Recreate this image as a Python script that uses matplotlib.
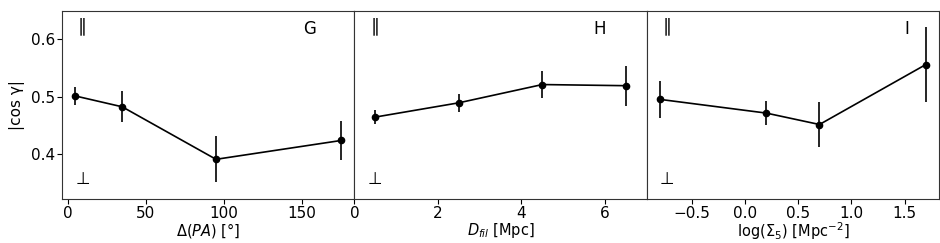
import matplotlib
matplotlib.use("Agg")
import matplotlib.pyplot as plt

# panel G: misalignment angle
pa_x = [5, 35, 95, 175]
pa_y = [0.501, 0.482, 0.390, 0.423]
pa_err = [0.015, 0.027, 0.040, 0.034]

# panel H: distance to filament
dfil_x = [0.5, 2.5, 4.5, 6.5]
dfil_y = [0.464, 0.489, 0.521, 0.519]
dfil_err = [0.012, 0.016, 0.024, 0.035]

# panel I: local density
sig_x = [-0.8, 0.2, 0.7, 1.7]
sig_y = [0.495, 0.471, 0.451, 0.556]
sig_err = [0.032, 0.021, 0.039, 0.066]

panel_letters = ["G", "H", "I"]
xlabels = [r"$\Delta(PA)$ [°]", r"$D_{fil}$ [Mpc]", r"log($\Sigma_5$) [Mpc$^{-2}$]"]

fig, axes = plt.subplots(1, 3, figsize=(9.4, 2.43), dpi=100, sharey=True)
fig.subplots_adjust(left=0.066, right=0.999, bottom=0.18, top=0.955, wspace=0)

data = [(pa_x, pa_y, pa_err), (dfil_x, dfil_y, dfil_err), (sig_x, sig_y, sig_err)]
letter_x = [0.845, 0.84, 0.89]

for i, ax in enumerate(axes):
    x, y, err = data[i]
    ax.errorbar(x, y, yerr=err, fmt="o-", color="black", ms=4.5, lw=1.2, elinewidth=1.2)
    ax.set_xlabel(xlabels[i], fontsize=10.5, labelpad=-0.5)
    ax.text(0.07, 0.92, "\u2225", transform=ax.transAxes, fontsize=13, va="center", ha="center")
    ax.text(0.07, 0.11, "\u22a5", transform=ax.transAxes, fontsize=12, va="center", ha="center")
    ax.text(letter_x[i], 0.905, panel_letters[i], transform=ax.transAxes, fontsize=12,
            va="center", ha="center")
    ax.tick_params(labelsize=11, length=3.5, pad=1.5)
    for s in ax.spines.values():
        s.set_color("#333333")
    if i > 0:
        ax.tick_params(axis="y", left=False)

axes[1].set_xlim(0, 7)
axes[0].set_ylim(0.32, 0.65)
axes[0].set_yticks([0.4, 0.5, 0.6])
axes[0].set_ylabel("|cos γ|", fontsize=11, labelpad=4)

fig.savefig("out.png", dpi=100)
